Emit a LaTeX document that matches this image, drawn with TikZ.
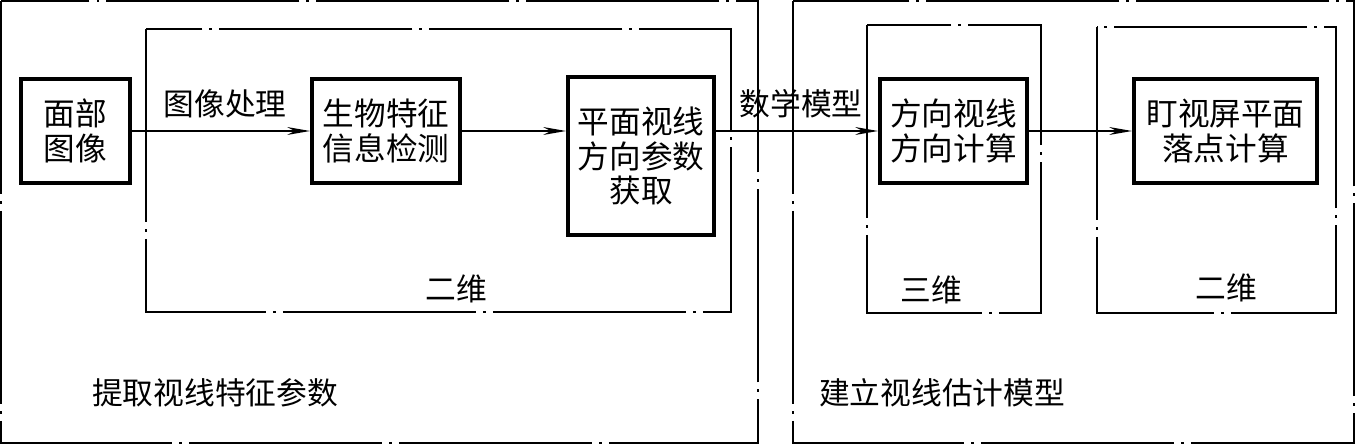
\documentclass[tikz,border=0pt]{standalone}
\usepackage{fontspec}
\setmainfont{Noto Sans CJK SC}
\usetikzlibrary{arrows.meta}
\begin{document}
\begin{tikzpicture}[x=0.02cm, y=-0.02cm, font=\fontsize{18}{19.5}\selectfont,
  blk/.style={draw,line width=2.2pt,align=center,inner sep=0pt},
  frame/.style={line width=1pt,dash pattern=on 110pt off 4pt on 1.5pt off 4pt},
  flow/.style={line width=1pt,-{Stealth[length=13pt,width=4.5pt]}},
  lbl/.style={font=\fontsize{17.5}{20}\selectfont}]
\useasboundingbox (0,0) rectangle (1356,445);
% outer and inner frames
\draw[frame] (1,1) rectangle (758,443);
\draw[frame] (793,1) rectangle (1354,443);
\draw[frame] (146,29) rectangle (731,312);
\draw[frame] (867,25) rectangle (1041,313);
\draw[frame] (1097,27) rectangle (1336,313);
% process boxes
\node[blk,minimum width=2.18cm,minimum height=2.08cm] (face) at (75.5,131) {面部\\图像};
\node[blk,minimum width=2.96cm,minimum height=2.08cm] (bio) at (386,131) {生物特征\\信息检测};
\node[blk,minimum width=2.92cm,minimum height=3.16cm] (plane) at (641,156) {平面视线\\方向参数\\获取};
\node[blk,minimum width=2.94cm,minimum height=2.08cm] (dir) at (953.5,131) {方向视线\\方向计算};
\node[blk,minimum width=3.66cm,minimum height=2.08cm] (gaze) at (1225.5,131) {盯视屏平面\\落点计算};
% connectors
\draw[flow] (face.east) -- (bio.west);
\draw[flow] (bio.east) -- (bio.east -| plane.west);
\draw[flow] (plane.east |- dir.west) -- (dir.west);
\draw[flow] (dir.east) -- (gaze.west);
% labels
\node[lbl] (proc) at (225,104) {图像处理};
\node[lbl] (math) at (801,104) {数学模型};
\node[lbl] (twoA) at (456,289) {二维};
\node[lbl] (three) at (931,290) {三维};
\node[lbl] (twoB) at (1226,288) {二维};
\node[lbl,anchor=west] (extract) at (86,393) {提取视线特征参数};
\node[lbl,anchor=west] (build) at (813,393) {建立视线估计模型};
\end{tikzpicture}
\end{document}
